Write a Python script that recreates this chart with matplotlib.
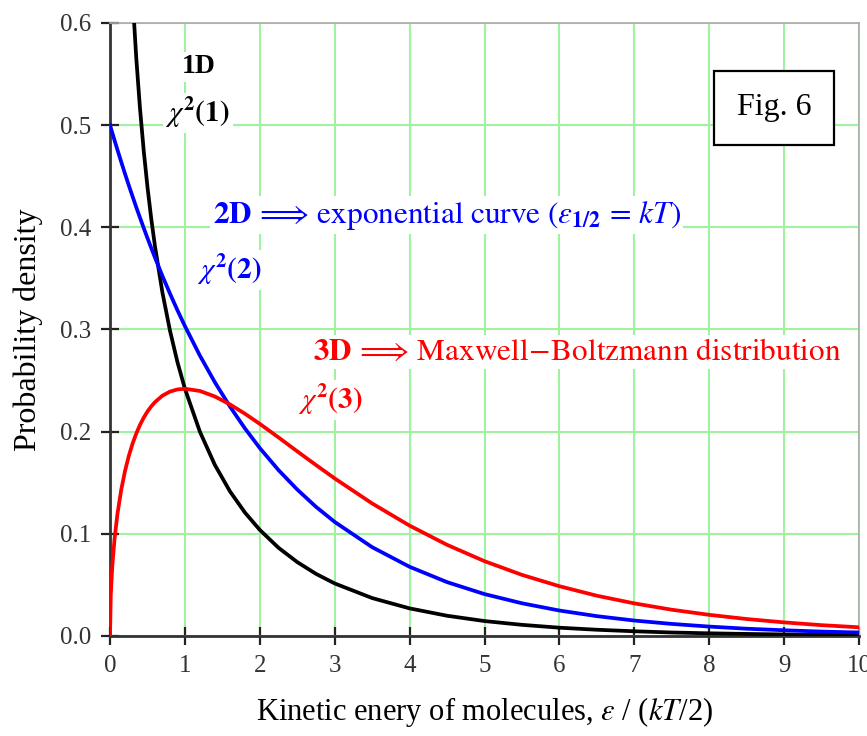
import numpy as np
import matplotlib.pyplot as plt

eps = [0, 0.01, 0.03, 0.06, 0.1, 0.15, 0.2, 0.25, 0.3, 0.35, 0.4, 0.45, 0.5, 0.55, 0.6,
       0.7, 0.8, 0.9, 1.0, 1.2, 1.4, 1.6, 1.8, 2.0, 2.25, 2.5, 2.75, 3.0, 3.5, 4.0, 4.5,
       5.0, 5.5, 6.0, 6.5, 7.0, 7.5, 8.0, 8.5, 9.0, 9.5, 10.0]

# 1D, chi2(1) - diverges at 0
pdf_1d = [np.nan, 3.970, 2.269, 1.5806, 1.2000, 0.9556, 0.8072, 0.7041, 0.6269, 0.5661,
          0.5164, 0.4749, 0.4394, 0.4086, 0.3815, 0.3360, 0.2990, 0.2681, 0.2420, 0.1999,
          0.1674, 0.1417, 0.1209, 0.1038, 0.0863, 0.0723, 0.0608, 0.0514, 0.0371, 0.0270,
          0.0198, 0.0146, 0.0109, 0.0081, 0.0061, 0.0046, 0.0034, 0.0026, 0.0020, 0.0015,
          0.0011, 0.0009]

# 2D, chi2(2)
pdf_2d = [0.5, 0.4975, 0.4926, 0.4852, 0.4756, 0.4639, 0.4524, 0.4412, 0.4304, 0.4197,
          0.4094, 0.3993, 0.3894, 0.3798, 0.3704, 0.3523, 0.3352, 0.3188, 0.3033, 0.2744,
          0.2483, 0.2247, 0.2033, 0.1839, 0.1623, 0.1433, 0.1264, 0.1116, 0.0869, 0.0677,
          0.0527, 0.0410, 0.0320, 0.0249, 0.0194, 0.0151, 0.0118, 0.0092, 0.0071, 0.0056,
          0.0043, 0.0034]

# 3D, chi2(3)
pdf_3d = [0.0, 0.0397, 0.0681, 0.0948, 0.1200, 0.1433, 0.1614, 0.1760, 0.1881, 0.1981,
          0.2066, 0.2137, 0.2197, 0.2247, 0.2289, 0.2352, 0.2392, 0.2413, 0.2420, 0.2398,
          0.2344, 0.2267, 0.2176, 0.2076, 0.1943, 0.1807, 0.1673, 0.1542, 0.1297, 0.1080,
          0.0892, 0.0732, 0.0598, 0.0487, 0.0394, 0.0319, 0.0257, 0.0207, 0.0166, 0.0133,
          0.0106, 0.0085]

x_ticks = list(range(0, 11))
y_ticks = [0.0, 0.1, 0.2, 0.3, 0.4, 0.5, 0.6]

plt.rcParams['font.family'] = ['Liberation Serif', 'DejaVu Serif']
plt.rcParams['mathtext.fontset'] = 'stix'

fig = plt.figure(figsize=(8.67, 7.36), dpi=100)
ax = fig.add_axes([0.1269, 0.1359, 0.8639, 0.8329])

ax.plot(eps, pdf_1d, color='black', lw=2.7, zorder=3)
ax.plot(eps, pdf_2d, color='#0000ff', lw=2.7, zorder=3)
ax.plot(eps, pdf_3d, color='#ff0000', lw=2.7, zorder=4)

ax.set_xlim(0, 10)
ax.set_ylim(0, 0.6)
ax.set_xticks(x_ticks)
ax.set_yticks(y_ticks)
ax.set_yticklabels([f'{v:.1f}' for v in y_ticks])
ax.grid(True, color='#a0f2a0', lw=1.5, zorder=0)
ax.set_axisbelow(True)

ax.tick_params(direction='inout', length=13, width=1.6, color='#222222',
               labelsize=18, labelcolor='#333333', pad=7)
for side in ['left', 'bottom']:
    ax.spines[side].set_color('#333333')
    ax.spines[side].set_linewidth(2)
for side in ['top', 'right']:
    ax.spines[side].set_color('#aaaaaa')
    ax.spines[side].set_linewidth(1.2)

ax.set_xlabel(r'Kinetic enery of molecules, $\varepsilon$ / ($kT$/2)', fontsize=22, labelpad=13)
ax.set_ylabel('Probability density', fontsize=23, labelpad=12)

bg = dict(facecolor='white', edgecolor='none', pad=2)

ax.text(1.18, 0.557, '1D', fontsize=20, fontweight='bold', ha='center', va='center', bbox=bg)
ax.text(1.17, 0.512, r'$\chi^{\mathbf{2}}\mathbf{(1)}$', fontsize=21, ha='center', va='center',
        bbox=bg)

ax.text(1.37, 0.412,
        r'$\mathbf{2D}\,\Longrightarrow\,\mathrm{exponential\ curve\ (}\varepsilon_{\mathbf{1/2}}'
        r'\,\mathrm{=}\,kT\mathrm{)}$',
        fontsize=22.5, color='#0000ff', ha='left', va='center', bbox=bg)
ax.text(1.16, 0.358, r'$\chi^{\mathbf{2}}\mathbf{(2)}$', fontsize=21, color='#0000ff',
        ha='left', va='center', bbox=bg)

ax.text(2.71, 0.278,
        r'$\mathbf{3D}\,\Longrightarrow\,\mathrm{Maxwell\!-\!Boltzmann\ distribution}$',
        fontsize=22.5, color='#ff0000', ha='left', va='center', bbox=bg)
ax.text(2.51, 0.231, r'$\chi^{\mathbf{2}}\mathbf{(3)}$', fontsize=21, color='#ff0000',
        ha='left', va='center', bbox=bg)

ax.text(8.865, 0.517, 'Fig. 6', fontsize=23, ha='center', va='center',
        bbox=dict(facecolor='white', edgecolor='black', lw=1.6, boxstyle='square,pad=0.7'))

fig.savefig('out.png', dpi=100)
